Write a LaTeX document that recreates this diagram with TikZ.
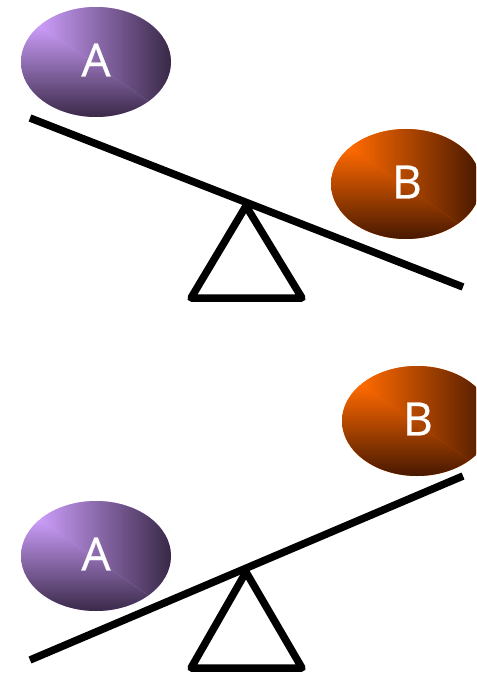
\documentclass[tikz,border=0pt]{standalone}
\usepackage{fontspec}
\setmainfont{Open Sans}
\definecolor{Alight}{HTML}{CA9CF8}
\definecolor{Amid}{HTML}{8563A8}
\definecolor{Adark}{HTML}{382846}
\definecolor{Blight}{HTML}{FF6A00}
\definecolor{Bmid}{HTML}{B04600}
\definecolor{Bdark}{HTML}{461700}
% #1 centre, #2 light, #3 mid, #4 dark
\newcommand\myball[4]{%
  \begin{scope}[shift={#1}]
    \clip (0,0) ellipse [x radius=75, y radius=55];
    \fill[#2] (-80,-60) rectangle (80,60);
    \begin{scope}
      \clip (-252.5,-172.5) -- (114.3,82.3) -- (114.3,-172.5) -- cycle;
      \shade[left color=#2, middle color=#3, right color=#4] (-56,-60) rectangle (76,60);
    \end{scope}
    \begin{scope}
      \clip (-252.5,-172.5) -- (114.3,82.3) -- (-252.5,82.3) -- cycle;
      \shade[top color=#2, middle color=#3, bottom color=#4] (-80,-36) rectangle (80,56);
    \end{scope}
  \end{scope}}
\tikzset{
  beam/.style={line width=7.5pt, line cap=butt},
  fulcrum/.style={line width=7.5pt, line join=round, line cap=round},
  lbl/.style={text=white, font=\fontsize{46}{46}\selectfont\addfontfeature{FakeBold=0.6}, inner sep=0pt},
}
\begin{document}
\begin{tikzpicture}[x=1pt, y=-1pt]
\useasboundingbox (0,0) rectangle (476,676);
\clip (0,0) rectangle (476,676);
% top seesaw
\coordinate (t1) at (30,118);
\coordinate (t2) at (463,287);
\coordinate (ta) at (246,206);
\coordinate (tl) at (191,298);
\coordinate (tr) at (302,298);
\draw[fulcrum] (ta) -- (tl) -- (tr) -- cycle;
\draw[beam] (t1) -- (t2);
\myball{(96,62)}{Alight}{Amid}{Adark}
\node[lbl] (A1) at (96,60) {A};
\myball{(406,184)}{Blight}{Bmid}{Bdark}
\node[lbl] (B1) at (407,182) {B};
% bottom seesaw
\coordinate (b1) at (30,660);
\coordinate (b2) at (463,476);
\coordinate (ba) at (246,572);
\coordinate (bl) at (191,668);
\coordinate (br) at (302,668);
\draw[fulcrum] (ba) -- (bl) -- (br) -- cycle;
\draw[beam] (b1) -- (b2);
\myball{(96,556)}{Alight}{Amid}{Adark}
\node[lbl] (A2) at (96,554) {A};
\myball{(417,421)}{Blight}{Bmid}{Bdark}
\node[lbl] (B2) at (418,419) {B};
\end{tikzpicture}
\end{document}
